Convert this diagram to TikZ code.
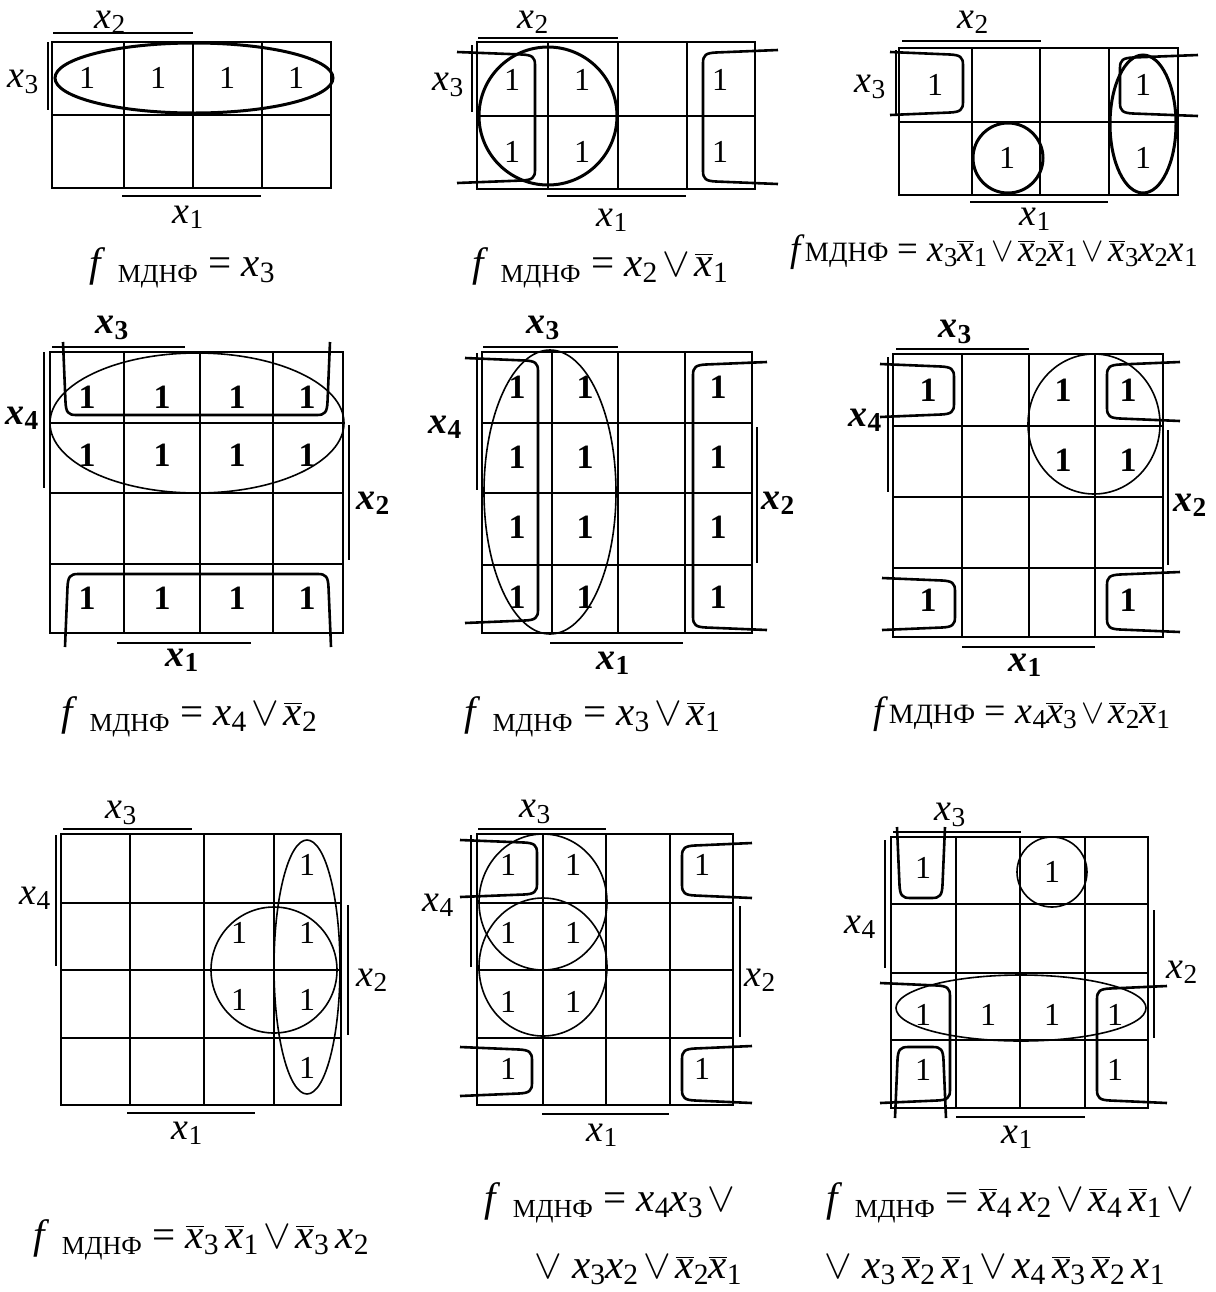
\documentclass[tikz,border=0pt]{standalone}
\usepackage{fontspec}
\setmainfont{Liberation Serif}
\usepackage{graphicx}
\newcommand{\vx}[1]{\textit{x}\raisebox{-0.3ex}{\scalebox{0.72}{#1}}}
\newcommand{\nx}[1]{$\overline{\hbox{\textit{x}}}$\raisebox{-0.3ex}{\scalebox{0.72}{#1}}}
\newcommand{\fm}{\textit{f}\hspace{0.3em}\raisebox{-0.35ex}{\fontsize{13}{13}\selectfont МДНФ}}
\newcommand{\fmc}{\textit{f}{\fontsize{14}{14}\selectfont МДНФ}}
\newcommand{\orr}{\hspace{0.12em}$\vee$\hspace{0.12em}}
\newcommand{\hbrk}[4]{%
 \pgfmathsetmacro\mybd{(#2>#1)?1:-1}%
 \draw[brk] (#1,#3) -- ({#2-\mybd*13},{#3+2.5}) .. controls ({#2-\mybd*3},{#3+3}) and (#2,{#3+5}) .. (#2,{#3+13}) -- (#2,{#4-13}) .. controls (#2,{#4-5}) and ({#2-\mybd*3},{#4-3}) .. ({#2-\mybd*13},{#4-2.5}) -- (#1,#4);}
\newcommand{\vbrk}[4]{%
 \pgfmathsetmacro\mybd{(#2>#1)?1:-1}%
 \draw[brk] (#3,#1) -- ({#3+2.5},{#2-\mybd*13}) .. controls ({#3+3},{#2-\mybd*3}) and ({#3+5},#2) .. ({#3+13},#2) -- ({#4-13},#2) .. controls ({#4-5},#2) and ({#4-3},{#2-\mybd*3}) .. ({#4-2.5},{#2-\mybd*13}) -- (#4,#1);}
\newcommand{\kgrid}[6]{%
 \foreach \gx in {#1} \draw[gridl] (\gx,#5) -- (\gx,#6);
 \foreach \gy in {#2} \draw[gridl] (#3,\gy) -- (#4,\gy);}
\tikzset{
 gridl/.style={line width=1pt, line cap=rect},
 bar/.style={line width=0.9pt},
 brk/.style={line width=1.3pt, line join=round},
 ring/.style={line width=1.5pt},
 thinring/.style={line width=0.8pt},
 one/.style={inner sep=0pt, font=\fontsize{16}{16}\selectfont},
 bone/.style={inner sep=0pt, font=\fontsize{17}{17}\selectfont\bfseries},
 lab/.style={inner sep=0pt, font=\fontsize{19}{19}\selectfont},
 blab/.style={inner sep=0pt, font=\fontsize{19}{19}\selectfont\bfseries},
 fml/.style={inner sep=0pt, font=\fontsize{20.5}{21}\selectfont},
 cfml/.style={inner sep=0pt, font=\fontsize{19}{19}\selectfont},
}
\begin{document}
\begin{tikzpicture}[x=0.5pt,y=-0.5pt]
\useasboundingbox (0,0) rectangle (1216,1292);
% ---------------- Map 1
\kgrid{52,124,193,262,331}{42,115,188}{52}{331}{42}{188}
\draw[bar] (53,33) -- (193,33);
\draw[bar] (48,42) -- (48,110);
\draw[bar] (122,196) -- (261,196);
\node[lab] (m1x2) at (110,22) {\vx{2}};
\node[lab] (m1x3) at (23,82) {\vx{3}};
\node[lab] (m1x1) at (188,217) {\vx{1}};
\draw[ring] (194,78) ellipse [x radius=139, y radius=35];
\foreach \p [count=\i] in {(87,78),(158,78),(227,78),(296,78)} \node[one] (m1o\i) at \p {1};
\node[fml] (f1) at (182,268) {\fm\ = \vx{3}};
% ---------------- Map 2
\kgrid{477,548,618,687,755}{42,116,189}{477}{755}{42}{189}
\draw[bar] (478,38) -- (618,38);
\draw[bar] (472,45) -- (472,112);
\draw[bar] (547,196) -- (686,196);
\node[lab] (m2x2) at (533,22) {\vx{2}};
\node[lab] (m2x3) at (448,85) {\vx{3}};
\node[lab] (m2x1) at (612,220) {\vx{1}};
\draw[ring] (548,116) circle [radius=69];
\hbrk{457}{535}{52}{183}
\hbrk{778}{703}{50}{184}
\foreach \p [count=\i] in {(512,80),(582,80),(512,152),(582,152),(720,80),(720,152)} \node[one] (m2o\i) at \p {1};
\node[fml] (f2) at (600,268) {\fm\ = \vx{2}\orr\nx{1}};
% ---------------- Map 3
\kgrid{899,972,1040,1109,1178}{48,122,195}{899}{1178}{48}{195}
\draw[bar] (902,41) -- (1041,41);
\draw[bar] (896,50) -- (896,115);
\draw[bar] (970,202) -- (1108,202);
\node[lab] (m3x2) at (973,22) {\vx{2}};
\node[lab] (m3x3) at (870,87) {\vx{3}};
\node[lab] (m3x1) at (1035,219) {\vx{1}};
\hbrk{890}{963}{52}{115}
\hbrk{1198}{1120}{55}{116}
\draw[ring] (1008,158) circle [radius=35];
\draw[ring] (1143,124) ellipse [x radius=33, y radius=69];
\foreach \p [count=\i] in {(935,85),(1143,85),(1007,158),(1143,158)} \node[one] (m3o\i) at \p {1};
\node[cfml] (f3) at (994,252) {\scalebox{0.97}[1]{\fmc\ = \vx{3}\nx{1}\orr\nx{2}\nx{1}\orr\nx{3}\vx{2}\vx{1}}};
% ---------------- Map 4
\kgrid{50,124,200,273,343}{352,423,493,564,633}{50}{343}{352}{633}
\draw[bar] (52,347) -- (185,347);
\draw[bar] (44,352) -- (44,488);
\draw[bar] (349,425) -- (349,560);
\draw[bar] (117,643) -- (251,643);
\node[blab] (m4x3) at (112,328) {\vx{3}};
\node[blab] (m4x4) at (22,418) {\vx{4}};
\node[blab] (m4x2) at (373,503) {\vx{2}};
\node[blab] (m4x1) at (182,660) {\vx{1}};
\draw[thinring] (197,423) ellipse [x radius=147, y radius=70];
\vbrk{342}{415}{63}{330}
\vbrk{647}{574}{65}{331}
\foreach \p [count=\i] in {(87,397),(162,397),(237,397),(307,397),(87,455),(162,455),(237,455),(307,455),(87,598),(162,598),(237,598),(307,598)} \node[bone] (m4o\i) at \p {1};
\node[fml] (f4) at (189,717) {\fm\ = \vx{4}\orr\nx{2}};
% ---------------- Map 5
\kgrid{482,552,618,685,752}{352,423,493,565,633}{482}{752}{352}{633}
\draw[bar] (483,347) -- (618,347);
\draw[bar] (477,353) -- (477,490);
\draw[bar] (757,427) -- (757,563);
\draw[bar] (550,643) -- (683,643);
\node[blab] (m5x3) at (543,328) {\vx{3}};
\node[blab] (m5x4) at (445,427) {\vx{4}};
\node[blab] (m5x2) at (778,503) {\vx{2}};
\node[blab] (m5x1) at (613,663) {\vx{1}};
\draw[thinring] (550,492) ellipse [x radius=66, y radius=142];
\hbrk{465}{538}{358}{623}
\hbrk{767}{693}{362}{630}
\foreach \p [count=\i] in {(517,387),(585,387),(718,387),(517,457),(585,457),(718,457),(517,527),(585,527),(718,527),(517,597),(585,597),(718,597)} \node[bone] (m5o\i) at \p {1};
\node[fml] (f5) at (592,717) {\fm\ = \vx{3}\orr\nx{1}};
% ---------------- Map 6
\kgrid{893,962,1029,1095,1163}{354,426,497,568,637}{893}{1163}{354}{637}
\draw[bar] (896,349) -- (1029,349);
\draw[bar] (888,357) -- (888,492);
\draw[bar] (1168,430) -- (1168,565);
\draw[bar] (962,647) -- (1095,647);
\node[blab] (m6x3) at (955,332) {\vx{3}};
\node[blab] (m6x4) at (865,420) {\vx{4}};
\node[blab] (m6x2) at (1190,505) {\vx{2}};
\node[blab] (m6x1) at (1025,665) {\vx{1}};
\draw[thinring] (1094,424) ellipse [x radius=66, y radius=70];
\hbrk{880}{954}{364}{417}
\hbrk{1180}{1107}{362}{421}
\hbrk{882}{955}{578}{630}
\hbrk{1180}{1107}{572}{632}
\foreach \p [count=\i] in {(928,390),(1063,390),(1128,390),(1063,460),(1128,460),(928,600),(1128,600)} \node[bone] (m6o\i) at \p {1};
\node[cfml] (f6) at (1022,714) {\fmc\ = \vx{4}\nx{3}\orr\nx{2}\nx{1}};
% ---------------- Map 7
\kgrid{61,130,204,274,341}{834,903,970,1038,1105}{61}{341}{834}{1105}
\draw[bar] (63,829) -- (192,829);
\draw[bar] (56,835) -- (56,966);
\draw[bar] (348,905) -- (348,1035);
\draw[bar] (127,1113) -- (255,1113);
\node[lab] (m7x3) at (121,813) {\vx{3}};
\node[lab] (m7x4) at (35,898) {\vx{4}};
\node[lab] (m7x2) at (372,980) {\vx{2}};
\node[lab] (m7x1) at (187,1133) {\vx{1}};
\draw[thinring] (274,970) circle [radius=63];
\draw[thinring] (307,967) ellipse [x radius=33, y radius=127];
\foreach \p [count=\i] in {(307,865),(239,933),(307,933),(239,1000),(307,1000),(307,1068)} \node[one] (m7o\i) at \p {1};
\node[fml] (f7) at (201,1240) {\fm\ = \nx{3}\,\nx{1}\orr\nx{3}\,\vx{2}};
% ---------------- Map 8
\kgrid{477,543,606,670,733}{834,903,970,1038,1105}{477}{733}{834}{1105}
\draw[bar] (478,829) -- (606,829);
\draw[bar] (471,835) -- (471,967);
\draw[bar] (740,906) -- (740,1037);
\draw[bar] (542,1114) -- (669,1114);
\node[lab] (m8x3) at (535,812) {\vx{3}};
\node[lab] (m8x4) at (438,905) {\vx{4}};
\node[lab] (m8x2) at (760,980) {\vx{2}};
\node[lab] (m8x1) at (602,1135) {\vx{1}};
\draw[thinring] (543,902) ellipse [x radius=64, y radius=68];
\draw[thinring] (543,967) ellipse [x radius=64, y radius=69];
\hbrk{460}{537}{840}{897}
\hbrk{752}{682}{843}{898}
\hbrk{460}{532}{1047}{1096}
\hbrk{752}{682}{1046}{1103}
\foreach \p [count=\i] in {(508,865),(573,865),(702,865),(508,933),(573,933),(508,1002),(573,1002),(508,1069),(702,1069)} \node[one] (m8o\i) at \p {1};
\node[fml, anchor=west] (f8a) at (484,1203) {\fm\ = \vx{4}\vx{3}\orr};
\node[fml, anchor=east] (f8b) at (742,1270) {$\vee$\ \vx{3}\vx{2}\orr\nx{2}\nx{1}};
% ---------------- Map 9
\kgrid{891,956,1020,1085,1148}{837,904,973,1040,1108}{891}{1148}{837}{1108}
\draw[bar] (893,832) -- (1021,832);
\draw[bar] (885,840) -- (885,968);
\draw[bar] (1154,910) -- (1154,1038);
\draw[bar] (956,1117) -- (1085,1117);
\node[lab] (m9x3) at (950,815) {\vx{3}};
\node[lab] (m9x4) at (860,927) {\vx{4}};
\node[lab] (m9x2) at (1182,972) {\vx{2}};
\node[lab] (m9x1) at (1017,1137) {\vx{1}};
\draw[thinring] (1052,872) circle [radius=35];
\draw[thinring] (1021,1008) ellipse [x radius=125, y radius=33];
\vbrk{827}{898}{897}{945}
\vbrk{1118}{1047}{895}{946}
\hbrk{880}{950}{983}{1103}
\hbrk{1167}{1097}{986}{1103}
\foreach \p [count=\i] in {(923,868),(1052,872),(923,1015),(988,1015),(1052,1015),(1115,1015),(923,1070),(1115,1070)} \node[one] (m9o\i) at \p {1};
\node[fml, anchor=west] (f9a) at (826,1203) {\fm\ = \nx{4}\,\vx{2}\orr\nx{4}\,\nx{1}\orr};
\node[fml, anchor=west] (f9b) at (824,1270) {$\vee$\ \vx{3}\,\nx{2}\,\nx{1}\orr\vx{4}\,\nx{3}\,\nx{2}\,\vx{1}};
\end{tikzpicture}
\end{document}
